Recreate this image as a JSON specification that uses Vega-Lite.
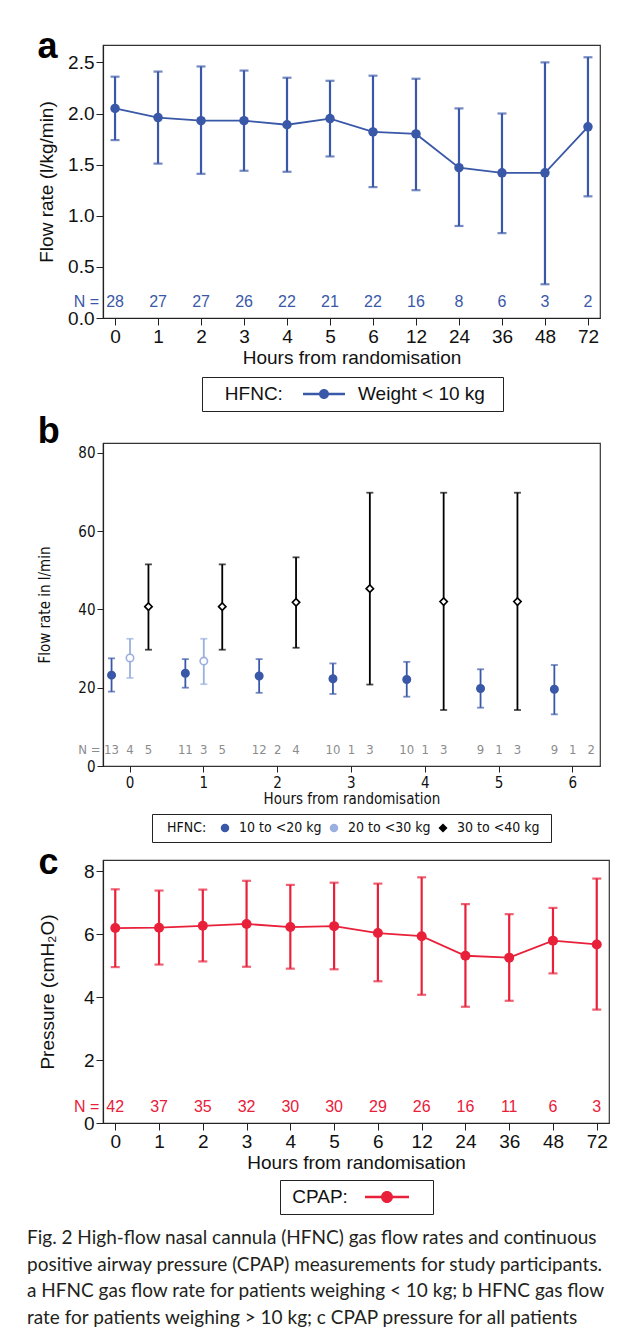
{
  "$schema": "https://vega.github.io/schema/vega-lite/v6.json",
  "padding": {"left": 26, "top": 28, "right": 5, "bottom": 5},
  "spacing": 0,
  "resolve": {"scale": {"color": "independent", "x": "independent", "y": "independent", "shape": "independent", "fill": "independent"}, "legend": {"color": "independent", "shape": "independent", "fill": "independent"}},
  "datasets": {
    "a": [
      {"hour": "0", "mean": 2.05, "lo": 1.74, "hi": 2.36, "n": 28, "series": "Weight < 10 kg"},
      {"hour": "1", "mean": 1.96, "lo": 1.51, "hi": 2.41, "n": 27, "series": "Weight < 10 kg"},
      {"hour": "2", "mean": 1.93, "lo": 1.41, "hi": 2.46, "n": 27, "series": "Weight < 10 kg"},
      {"hour": "3", "mean": 1.93, "lo": 1.44, "hi": 2.42, "n": 26, "series": "Weight < 10 kg"},
      {"hour": "4", "mean": 1.89, "lo": 1.43, "hi": 2.35, "n": 22, "series": "Weight < 10 kg"},
      {"hour": "5", "mean": 1.95, "lo": 1.58, "hi": 2.32, "n": 21, "series": "Weight < 10 kg"},
      {"hour": "6", "mean": 1.82, "lo": 1.28, "hi": 2.37, "n": 22, "series": "Weight < 10 kg"},
      {"hour": "12", "mean": 1.80, "lo": 1.25, "hi": 2.34, "n": 16, "series": "Weight < 10 kg"},
      {"hour": "24", "mean": 1.47, "lo": 0.90, "hi": 2.05, "n": 8, "series": "Weight < 10 kg"},
      {"hour": "36", "mean": 1.42, "lo": 0.83, "hi": 2.00, "n": 6, "series": "Weight < 10 kg"},
      {"hour": "48", "mean": 1.42, "lo": 0.33, "hi": 2.50, "n": 3, "series": "Weight < 10 kg"},
      {"hour": "72", "mean": 1.87, "lo": 1.19, "hi": 2.55, "n": 2, "series": "Weight < 10 kg"}
    ],
    "b": [
      {"hour": "0", "group": "10 to <20 kg", "mean": 23.2, "lo": 19.0, "hi": 27.5},
      {"hour": "1", "group": "10 to <20 kg", "mean": 23.7, "lo": 20.0, "hi": 27.3},
      {"hour": "2", "group": "10 to <20 kg", "mean": 23.0, "lo": 18.7, "hi": 27.3},
      {"hour": "3", "group": "10 to <20 kg", "mean": 22.3, "lo": 18.4, "hi": 26.2},
      {"hour": "4", "group": "10 to <20 kg", "mean": 22.1, "lo": 17.7, "hi": 26.6},
      {"hour": "5", "group": "10 to <20 kg", "mean": 19.8, "lo": 14.9, "hi": 24.7},
      {"hour": "6", "group": "10 to <20 kg", "mean": 19.6, "lo": 13.2, "hi": 25.8},
      {"hour": "0", "group": "20 to <30 kg", "mean": 27.6, "lo": 22.5, "hi": 32.5},
      {"hour": "1", "group": "20 to <30 kg", "mean": 26.8, "lo": 20.9, "hi": 32.5},
      {"hour": "0", "group": "30 to <40 kg", "mean": 40.7, "lo": 29.7, "hi": 51.5},
      {"hour": "1", "group": "30 to <40 kg", "mean": 40.7, "lo": 29.7, "hi": 51.5},
      {"hour": "2", "group": "30 to <40 kg", "mean": 41.8, "lo": 30.2, "hi": 53.3},
      {"hour": "3", "group": "30 to <40 kg", "mean": 45.3, "lo": 20.8, "hi": 69.8},
      {"hour": "4", "group": "30 to <40 kg", "mean": 42.0, "lo": 14.3, "hi": 69.8},
      {"hour": "5", "group": "30 to <40 kg", "mean": 42.0, "lo": 14.3, "hi": 69.8}
    ],
    "bn": [
      {"hour": "0", "group": "10 to <20 kg", "n": 13}, {"hour": "0", "group": "20 to <30 kg", "n": 4}, {"hour": "0", "group": "30 to <40 kg", "n": 5},
      {"hour": "1", "group": "10 to <20 kg", "n": 11}, {"hour": "1", "group": "20 to <30 kg", "n": 3}, {"hour": "1", "group": "30 to <40 kg", "n": 5},
      {"hour": "2", "group": "10 to <20 kg", "n": 12}, {"hour": "2", "group": "20 to <30 kg", "n": 2}, {"hour": "2", "group": "30 to <40 kg", "n": 4},
      {"hour": "3", "group": "10 to <20 kg", "n": 10}, {"hour": "3", "group": "20 to <30 kg", "n": 1}, {"hour": "3", "group": "30 to <40 kg", "n": 3},
      {"hour": "4", "group": "10 to <20 kg", "n": 10}, {"hour": "4", "group": "20 to <30 kg", "n": 1}, {"hour": "4", "group": "30 to <40 kg", "n": 3},
      {"hour": "5", "group": "10 to <20 kg", "n": 9}, {"hour": "5", "group": "20 to <30 kg", "n": 1}, {"hour": "5", "group": "30 to <40 kg", "n": 3},
      {"hour": "6", "group": "10 to <20 kg", "n": 9}, {"hour": "6", "group": "20 to <30 kg", "n": 1}, {"hour": "6", "group": "30 to <40 kg", "n": 2}
    ],
    "c": [
      {"hour": "0", "mean": 6.19, "lo": 4.95, "hi": 7.42, "n": 42, "series": "CPAP"},
      {"hour": "1", "mean": 6.20, "lo": 5.03, "hi": 7.38, "n": 37, "series": "CPAP"},
      {"hour": "2", "mean": 6.26, "lo": 5.13, "hi": 7.41, "n": 35, "series": "CPAP"},
      {"hour": "3", "mean": 6.32, "lo": 4.96, "hi": 7.69, "n": 32, "series": "CPAP"},
      {"hour": "4", "mean": 6.22, "lo": 4.90, "hi": 7.56, "n": 30, "series": "CPAP"},
      {"hour": "5", "mean": 6.25, "lo": 4.88, "hi": 7.63, "n": 30, "series": "CPAP"},
      {"hour": "6", "mean": 6.03, "lo": 4.50, "hi": 7.60, "n": 29, "series": "CPAP"},
      {"hour": "12", "mean": 5.93, "lo": 4.07, "hi": 7.80, "n": 26, "series": "CPAP"},
      {"hour": "24", "mean": 5.31, "lo": 3.69, "hi": 6.95, "n": 16, "series": "CPAP"},
      {"hour": "36", "mean": 5.25, "lo": 3.88, "hi": 6.63, "n": 11, "series": "CPAP"},
      {"hour": "48", "mean": 5.79, "lo": 4.75, "hi": 6.83, "n": 6, "series": "CPAP"},
      {"hour": "72", "mean": 5.67, "lo": 3.60, "hi": 7.76, "n": 3, "series": "CPAP"}
    ]
  },
  "title": {
    "text": [
      "Fig. 2 High-flow nasal cannula (HFNC) gas flow rates and continuous",
      "positive airway pressure (CPAP) measurements for study participants.",
      "a HFNC gas flow rate for patients weighing < 10 kg; b HFNC gas flow",
      "rate for patients weighing > 10 kg; c CPAP pressure for all patients"
    ],
    "orient": "bottom",
    "anchor": "start",
    "frame": "bounds",
    "font": "Lato",
    "fontSize": 19,
    "fontWeight": "normal",
    "color": "#231F20",
    "lineHeight": 26.5,
    "offset": 14,
    "dx": -10
  },
  "vconcat": [
    {
      "width": 497,
      "height": 273,
      "title": {"text": "a", "anchor": "start", "frame": "bounds", "font": "Liberation Sans", "fontSize": 36, "fontWeight": "bold", "color": "#000", "baseline": "alphabetic", "offset": 0, "dy": 49},
      "data": {"name": "a"},
      "encoding": {
        "x": {"field": "hour", "type": "ordinal", "sort": null, "scale": {"type": "point", "padding": 0.28},
              "axis": {"labelAngle": 0, "title": "Hours from randomisation", "labelPadding": 2, "titlePadding": 2}}
      },
      "layer": [
        {"mark": {"type": "rule", "color": "#3A58A8", "strokeWidth": 2.2},
         "encoding": {"y": {"field": "lo", "type": "quantitative", "scale": {"domain": [0, 2.67], "nice": false},
                            "axis": {"values": [0, 0.5, 1, 1.5, 2, 2.5], "format": ".1f", "title": "Flow rate (l/kg/min)", "titlePadding": 11}},
                      "y2": {"field": "hi"}}},
        {"mark": {"type": "tick", "orient": "horizontal", "color": "#3A58A8", "size": 9, "thickness": 2.2},
         "encoding": {"y": {"field": "lo", "type": "quantitative"}}},
        {"mark": {"type": "tick", "orient": "horizontal", "color": "#3A58A8", "size": 9, "thickness": 2.2},
         "encoding": {"y": {"field": "hi", "type": "quantitative"}}},
        {"mark": {"type": "line", "color": "#3A58A8", "strokeWidth": 1.8},
         "encoding": {"y": {"field": "mean", "type": "quantitative"}}},
        {"mark": {"type": "point", "filled": true, "size": 90, "opacity": 1},
         "encoding": {"y": {"field": "mean", "type": "quantitative"},
                      "color": {"field": "series", "type": "nominal", "scale": {"range": ["#3A58A8"]},
                                "legend": {"title": "\u200b\u00a0\u00a0\u00a0HFNC:", "orient": "none", "legendX": 99, "legendY": 332, "direction": "horizontal", "titleOrient": "left",
                                           "strokeColor": "#222", "padding": 7,
                                           "symbolType": "M-2.1,-0.13H2.1V0.13H-2.1Z M-0.5,0A0.5,0.5,0,1,1,0.5,0A0.5,0.5,0,1,1,-0.5,0Z",
                                           "symbolSize": 400, "symbolStrokeWidth": 0, "symbolOpacity": 1,
                                           "titleFontSize": 19, "labelFontSize": 19, "titleFontWeight": "normal", "titleFont": "Liberation Sans", "labelFont": "Liberation Sans",
                                           "titlePadding": 31, "labelOffset": 24, "labelExpr": "datum.label + '\u00a0\u00a0\u200b'",
                                           "titleColor": "#111", "labelColor": "#111", "titleBaseline": "middle"}}}},
        {"mark": {"type": "text", "color": "#3A58A8", "fontSize": 16, "baseline": "middle", "font": "Liberation Sans"},
         "encoding": {"y": {"datum": 0.16}, "text": {"field": "n"}}},
        {"transform": [{"filter": "datum.hour === '0'"}],
         "mark": {"type": "text", "color": "#3A58A8", "fontSize": 16, "baseline": "middle", "align": "right", "dx": -16, "text": "N =", "font": "Liberation Sans"},
         "encoding": {"y": {"datum": 0.16}}}
      ]
    },
    {
      "width": 497,
      "height": 323,
      "title": {"text": "b", "anchor": "start", "frame": "bounds", "font": "Liberation Sans", "fontSize": 36, "fontWeight": "bold", "color": "#000", "baseline": "alphabetic", "offset": 0, "dy": 36},
      "encoding": {
        "x": {"field": "hour", "type": "ordinal", "sort": null,
              "scale": {"type": "band", "domain": ["0", "1", "2", "3", "4", "5", "6"], "paddingInner": 0, "paddingOuter": 0, "range": [-9.9, 506.7]},
              "axis": {"labelAngle": 0, "title": "Hours from randomisation", "domain": false, "labelFont": "DejaVu Sans Condensed, Liberation Sans", "titleFont": "DejaVu Sans Condensed, Liberation Sans", "labelFontSize": 15, "titleFontSize": 15, "labelPadding": 3, "titlePadding": 1, "tickSize": 6, "bandPosition": 0.5}},
        "xOffset": {"field": "group", "type": "nominal",
                    "scale": {"domain": ["10 to <20 kg", "20 to <30 kg", "30 to <40 kg"], "paddingInner": 0, "paddingOuter": 0.5}}
      },
      "layer": [
        {"data": {"name": "b"},
         "mark": {"type": "rule", "strokeWidth": 1.8},
         "encoding": {
           "y": {"field": "lo", "type": "quantitative", "scale": {"domain": [0, 82.5], "nice": false},
                 "axis": {"values": [0, 20, 40, 60, 80], "title": "Flow rate in l/min", "labelFont": "DejaVu Sans Condensed, Liberation Sans", "titleFont": "DejaVu Sans Condensed, Liberation Sans", "labelFontSize": 15, "titleFontSize": 15, "titlePadding": 25, "tickSize": 6}},
           "y2": {"field": "hi"},
           "color": {"field": "group", "type": "nominal", "scale": {"domain": ["10 to <20 kg", "20 to <30 kg", "30 to <40 kg"], "range": ["#3A58A8", "#9AB0DF", "#000000"]},
                     "legend": {"title": "\u200b\u00a0\u00a0HFNC:", "orient": "none", "legendX": 49, "legendY": 371, "titleOrient": "left", "direction": "horizontal",
                                "strokeColor": "#222", "padding": 7, "columnPadding": 5, "labelOffset": 7, "titlePadding": 11,
                                "titleFontSize": 14, "labelFontSize": 14, "titleFontWeight": "normal", "titleFont": "DejaVu Sans Condensed, Liberation Sans", "labelFont": "DejaVu Sans Condensed, Liberation Sans",
                                "titleColor": "#111", "labelColor": "#111", "symbolSize": 50, "symbolStrokeWidth": 1.4, "symbolOpacity": 1, "titleBaseline": "middle",
                                "labelExpr": "datum.value === '30 to <40 kg' ? datum.label + '\u00a0\u200b' : datum.label"}}
         }},
        {"data": {"name": "b"},
         "mark": {"type": "tick", "orient": "horizontal", "size": 7, "thickness": 1.8},
         "encoding": {
           "y": {"field": "lo", "type": "quantitative"},
           "color": {"field": "group", "type": "nominal", "legend": null}
         }},
        {"data": {"name": "b"},
         "mark": {"type": "tick", "orient": "horizontal", "size": 7, "thickness": 1.8},
         "encoding": {
           "y": {"field": "hi", "type": "quantitative"},
           "color": {"field": "group", "type": "nominal", "legend": null}
         }},
        {"data": {"name": "b"},
         "mark": {"type": "point", "size": 55, "strokeWidth": 1.6, "opacity": 1, "filled": false},
         "encoding": {
           "y": {"field": "mean", "type": "quantitative"},
           "color": {"field": "group", "type": "nominal"},
           "shape": {"field": "group", "type": "nominal", "scale": {"domain": ["10 to <20 kg", "20 to <30 kg", "30 to <40 kg"], "range": ["circle", "circle", "diamond"]}},
           "fill": {"field": "group", "type": "nominal", "scale": {"domain": ["10 to <20 kg", "20 to <30 kg", "30 to <40 kg"], "range": ["#3A58A8", "#ffffff", "#ffffff"]}}
         }},
        {"data": {"name": "bn"},
         "mark": {"type": "text", "color": "#8C8C8C", "fontSize": 13, "baseline": "middle", "font": "DejaVu Sans Condensed, Liberation Sans"},
         "encoding": {
           "y": {"datum": 4},
           "text": {"field": "n"}
         }},
        {"data": {"name": "bn"},
         "transform": [{"filter": "datum.hour === '0' && datum.group === '10 to <20 kg'"}],
         "mark": {"type": "text", "color": "#8C8C8C", "fontSize": 13, "baseline": "middle", "align": "right", "dx": -11, "text": "N =", "font": "DejaVu Sans Condensed, Liberation Sans"},
         "encoding": {
           "y": {"datum": 4}
         }}
      ]
    },
    {
      "width": 506,
      "height": 263,
      "title": {"text": "c", "anchor": "start", "frame": "bounds", "font": "Liberation Sans", "fontSize": 36, "fontWeight": "bold", "color": "#000", "baseline": "alphabetic", "offset": 0, "dy": 50},
      "data": {"name": "c"},
      "encoding": {
        "x": {"field": "hour", "type": "ordinal", "sort": null, "scale": {"type": "point", "padding": 0.28},
              "axis": {"labelAngle": 0, "title": "Hours from randomisation", "labelPadding": 2, "titlePadding": 2}}
      },
      "layer": [
        {"mark": {"type": "rule", "color": "#E8203A", "strokeWidth": 2.2},
         "encoding": {"y": {"field": "lo", "type": "quantitative", "scale": {"domain": [0, 8.35], "nice": false},
                            "axis": {"values": [0, 2, 4, 6, 8], "format": "d", "title": "Pressure (cmH\u2082O)", "titlePadding": 26}},
                      "y2": {"field": "hi"}}},
        {"mark": {"type": "tick", "orient": "horizontal", "color": "#E8203A", "size": 9, "thickness": 2.2},
         "encoding": {"y": {"field": "lo", "type": "quantitative"}}},
        {"mark": {"type": "tick", "orient": "horizontal", "color": "#E8203A", "size": 9, "thickness": 2.2},
         "encoding": {"y": {"field": "hi", "type": "quantitative"}}},
        {"mark": {"type": "line", "color": "#E8203A", "strokeWidth": 1.8},
         "encoding": {"y": {"field": "mean", "type": "quantitative"}}},
        {"mark": {"type": "point", "filled": true, "size": 100, "opacity": 1},
         "encoding": {"y": {"field": "mean", "type": "quantitative"},
                      "color": {"field": "series", "type": "nominal", "scale": {"range": ["#E8203A"]},
                                "legend": {"title": "\u200b\u00a0CPAP:", "orient": "none", "legendX": 177, "legendY": 320, "titleOrient": "left", "direction": "horizontal",
                                           "strokeColor": "#222", "padding": 7,
                                           "symbolType": "M-2.2,-0.13H2.2V0.13H-2.2Z M-0.6,0A0.6,0.6,0,1,1,0.6,0A0.6,0.6,0,1,1,-0.6,0Z",
                                           "symbolSize": 400, "symbolStrokeWidth": 0, "symbolOpacity": 1,
                                           "titleFontSize": 19, "labelFontSize": 19, "titleFontWeight": "normal", "titleFont": "Liberation Sans", "labelFont": "Liberation Sans",
                                           "titlePadding": 29, "labelOffset": 29, "labelExpr": "''",
                                           "titleColor": "#111", "labelColor": "#111", "titleBaseline": "middle"}}}},
        {"mark": {"type": "text", "color": "#E8203A", "fontSize": 16, "baseline": "middle", "font": "Liberation Sans"},
         "encoding": {"y": {"datum": 0.5}, "text": {"field": "n"}}},
        {"transform": [{"filter": "datum.hour === '0'"}],
         "mark": {"type": "text", "color": "#E8203A", "fontSize": 16, "baseline": "middle", "align": "right", "dx": -16, "text": "N =", "font": "Liberation Sans"},
         "encoding": {"y": {"datum": 0.5}}}
      ]
    }
  ],
  "config": {
    "font": "Liberation Sans",
    "background": "#ffffff",
    "view": {"stroke": "#333333", "strokeWidth": 1.2},
    "axis": {"grid": false, "domainColor": "#222", "tickColor": "#222", "labelColor": "#111", "titleColor": "#111",
             "labelFontSize": 19, "titleFontSize": 19, "titleFontWeight": "normal", "tickSize": 7, "labelPadding": 2,
             "labelFont": "Liberation Sans", "titleFont": "Liberation Sans", "domainWidth": 1.2}
  }
}
